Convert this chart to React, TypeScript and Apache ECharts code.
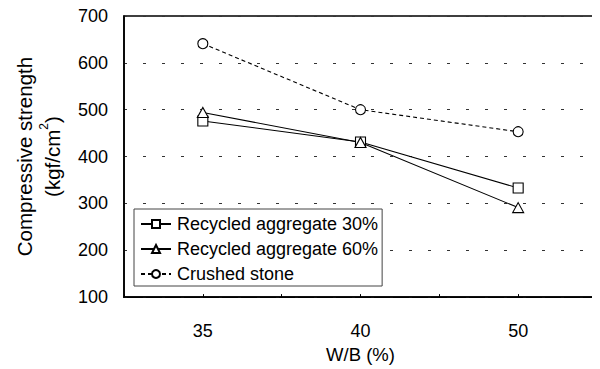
import React, { useEffect, useRef } from "react";
import * as echarts from "echarts";

const categories = ["35", "40", "50"];
const recycled30 = [476, 431, 333];
const recycled60 = [494, 430, 291];
const crushedStone = [641, 500, 453];
const yTicks = { min: 100, max: 700, interval: 100 };

export default function App() {
  const ref = useRef<HTMLDivElement>(null);
  useEffect(() => {
    if (!ref.current) return;
    const chart = echarts.init(ref.current, null, { renderer: "svg" });
    const font = "'Liberation Sans', Arial, sans-serif";
    const sym = (name: string, size: number | number[]) => ({
      symbol: name,
      symbolSize: size,
      itemStyle: { color: "#fff", borderColor: "#000", borderWidth: 1.1 },
    });
    chart.setOption({
      animation: false,
      textStyle: { fontFamily: font, color: "#000" },
      grid: {
        left: 124,
        right: 3,
        top: 16,
        bottom: 67,
        show: true,
        borderColor: "#000",
        borderWidth: 1.6,
      },
      legend: {
        orient: "vertical",
        left: 134,
        top: 209,
        padding: [6, 4, 3, 6],
        itemGap: 7,
        itemWidth: 30,
        itemHeight: 10,
        backgroundColor: "#fff",
        borderColor: "#444",
        borderWidth: 1,
        borderRadius: 0,
        textStyle: { fontSize: 18, color: "#000", fontFamily: font, padding: [0, 0, 0, 1] },
        data: ["Recycled aggregate 30%", "Recycled aggregate 60%", "Crushed stone"],
      },
      xAxis: [
        {
          type: "category",
          data: categories,
          boundaryGap: true,
          axisLine: { lineStyle: { color: "#000", width: 1.6 } },
          axisTick: { show: true, alignWithLabel: true, inside: true, length: 3, lineStyle: { color: "#000" } },
          axisLabel: { fontSize: 18, color: "#000", margin: 25, fontFamily: font },
          name: "W/B (%)",
          nameLocation: "middle",
          nameGap: 44,
          nameTextStyle: { fontSize: 18.5, color: "#000", fontFamily: font },
        },
        {
          type: "category",
          data: categories,
          position: "bottom",
          boundaryGap: true,
          axisLine: { show: false },
          axisTick: { show: true, alignWithLabel: false, inside: true, length: 3, lineStyle: { color: "#000" } },
          axisLabel: { show: false },
          splitLine: { show: false },
        },
      ],
      yAxis: {
        type: "value",
        min: yTicks.min,
        max: yTicks.max,
        interval: yTicks.interval,
        axisLine: { show: true, lineStyle: { color: "#000", width: 1.6 } },
        axisTick: { show: false },
        axisLabel: { fontSize: 18, color: "#000", margin: 16, fontFamily: font },
        splitLine: {
          show: true,
          lineStyle: { color: "#333", type: [3, 16], width: 1 },
        },
        name: "Compressive strength\n(kgf/cm{sup|2})",
        nameLocation: "middle",
        nameGap: 58,
        nameRotate: 90,
        nameTextStyle: {
          fontSize: 20.5,
          color: "#000",
          lineHeight: 28,
          fontFamily: font,
          rich: {
            sup: { fontSize: 12, verticalAlign: "top", lineHeight: 28, padding: [0, 0, 10, 0] },
          },
        },
      },
      series: [
        {
          name: "Recycled aggregate 30%",
          type: "line",
          data: recycled30,
          ...sym("rect", 10),
          lineStyle: { color: "#000", width: 1.1, type: "solid" },
        },
        {
          name: "Recycled aggregate 60%",
          type: "line",
          data: recycled60,
          ...sym("triangle", [11, 10]),
          lineStyle: { color: "#000", width: 1.1, type: "solid" },
        },
        {
          name: "Crushed stone",
          type: "line",
          data: crushedStone,
          ...sym("circle", 10),
          lineStyle: { color: "#000", width: 1.1, type: [4, 3] },
        },
      ],
    });
    return () => chart.dispose();
  }, []);
  return <div ref={ref} style={{ width: 600, height: 369, marginLeft: -8, marginTop: -8 }} />;
}
